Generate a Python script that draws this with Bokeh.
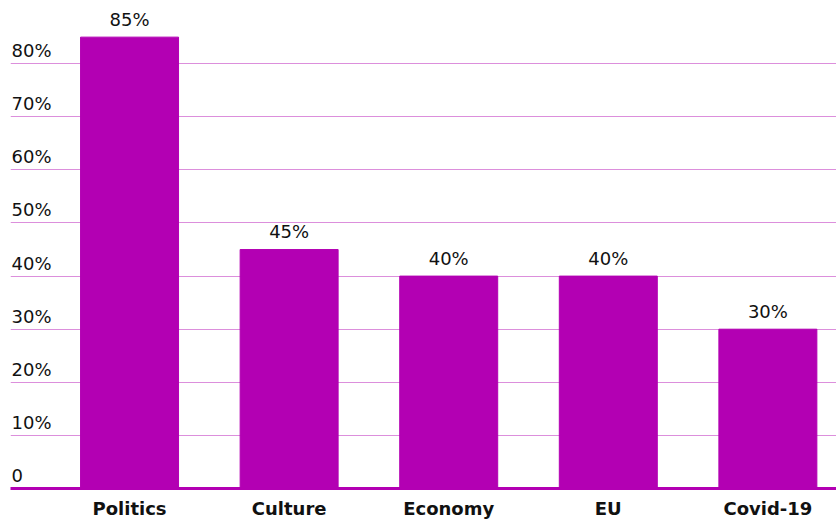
from bokeh.plotting import figure
from bokeh.models import FixedTicker, ColumnDataSource
from bokeh.core.properties import value
from bokeh.embed import file_html
from bokeh.resources import INLINE

categories = ["Politics", "Culture", "Economy", "EU", "Covid-19"]
values = [85, 45, 40, 40, 30]
value_labels = ["85%", "45%", "40%", "40%", "30%"]
y_ticks = [0, 10, 20, 30, 40, 50, 60, 70, 80]
y_tick_labels = ["0", "10%", "20%", "30%", "40%", "50%", "60%", "70%", "80%"]

BAR = "#b300b3"
GRID = "#dc8fdc"
FONT = "DejaVu Sans"

x = list(range(len(categories)))
x0, x1 = -0.746, 4.43

p = figure(width=836, height=521, output_backend="svg", toolbar_location=None,
           x_range=(x0, x1), y_range=(0, 91.9),
           min_border_left=10, min_border_right=0, min_border_top=0, min_border_bottom=33)
p.outline_line_color = None
p.background_fill_color = "white"
p.border_fill_color = "white"

p.yaxis.visible = False
p.xgrid.visible = False
p.ygrid.ticker = FixedTicker(ticks=y_ticks[1:])
p.ygrid.grid_line_color = GRID
p.ygrid.grid_line_width = 1

src = ColumnDataSource(dict(x=x, top=values, lab=value_labels))
p.vbar(x="x", top="top", bottom=0, width=0.614, color=BAR, source=src)

p.text(x="x", y="top", text="lab", source=src, text_align="center",
       text_baseline="alphabetic", y_offset=-18, text_font=value(FONT),
       text_font_size="18px", text_color="#111111")

tsrc = ColumnDataSource(dict(x=[x0] * len(y_ticks), y=y_ticks, t=y_tick_labels))
p.text(x="x", y="y", text="t", source=tsrc, text_align="left", x_offset=1,
       text_baseline="alphabetic", y_offset=-13, text_font=value(FONT),
       text_font_size="18px", text_color="#111111")

ax = p.xaxis[0]
ax.ticker = FixedTicker(ticks=x)
ax.major_label_overrides = {i: c for i, c in enumerate(categories)}
ax.axis_line_color = BAR
ax.axis_line_width = 3
ax.major_tick_line_color = None
ax.minor_tick_line_color = None
ax.major_tick_out = 0
ax.major_label_standoff = 9
ax.major_label_text_font = FONT
ax.major_label_text_font_size = "18px"
ax.major_label_text_font_style = "bold"
ax.major_label_text_color = "#111111"

open("out.html", "w").write(file_html(p, INLINE))
